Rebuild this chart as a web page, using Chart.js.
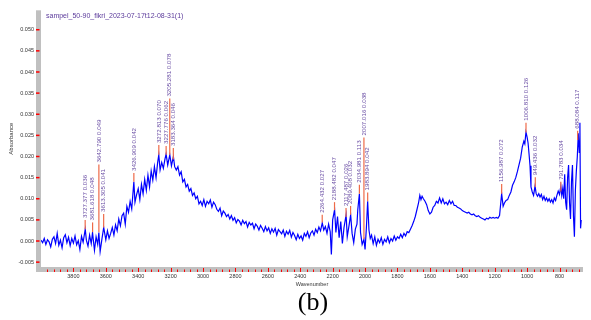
<!DOCTYPE html>
<html><head><meta charset="utf-8">
<script src="https://cdn.jsdelivr.net/npm/chart.js@4.4.0/dist/chart.umd.min.js"></script>
<style>html,body{margin:0;padding:0;background:#fff;}#wrap{width:591px;height:320px;position:relative;}</style>
</head><body><div id="wrap"><canvas id="c" width="591" height="320"></canvas></div>
<script>
const chartTitle = 'sampel_50-90_fikri_2023-07-17t12-08-31(1)';
const xTitle = 'Wavenumber';
const yTitle = 'Absorbance';
const panelLabel = '(b)';

const wavenumbers = [
4000,3990,3980,3970,3960,3950,3940,3930,3920,3910,3900,3890,3880,3870,3860,3850,3840,3830,3820,3810,
3800,3790,3780,3770,3760,3750,3740,3727,3720,3710,3700,3690,3682,3670,3660,3650,3643,3635,3625,3613,
3600,3590,3580,3570,3560,3550,3540,3530,3520,3510,3500,3490,3480,3470,3460,3450,3440,3427,3420,3410,
3400,3390,3380,3370,3360,3350,3340,3330,3320,3310,3300,3290,3280,3273,3265,3255,3245,3235,3228,3218,
3205,3195,3183,3175,3165,3155,3145,3135,3125,3115,3105,3095,3085,3075,3065,3055,3045,3035,3025,3015,
3005,2995,2985,2975,2965,2955,2945,2935,2925,2915,2905,2895,2885,2875,2865,2855,2845,2835,2825,2815,
2805,2795,2785,2775,2765,2755,2745,2735,2725,2715,2705,2695,2685,2675,2665,2655,2645,2635,2625,2615,
2605,2595,2585,2575,2565,2555,2545,2535,2525,2515,2505,2495,2485,2475,2465,2455,2445,2435,2425,2415,
2405,2395,2385,2375,2365,2355,2345,2335,2325,2315,2305,2295,2285,2275,2264,2255,2245,2235,2225,2215,
2208,2200,2188,2180,2170,2160,2150,2140,2130,2117,2110,2100,2089,2080,2070,2060,2050,2045,2035,2028,
2018,2007,2000,1992,1984,1976,1968,1960,1950,1940,1930,1920,1910,1900,1890,1880,1870,1860,1850,1840,
1830,1820,1810,1800,1790,1780,1770,1760,1750,1740,1730,1720,1710,1700,1690,1680,1670,1662,1655,1648,
1640,1630,1620,1610,1600,1590,1580,1570,1560,1550,1540,1530,1520,1510,1500,1490,1480,1470,1460,1450,
1440,1430,1420,1410,1400,1390,1380,1370,1360,1350,1340,1330,1320,1310,1300,1290,1280,1270,1260,1250,
1240,1230,1220,1210,1200,1190,1180,1170,1157,1148,1140,1130,1120,1110,1100,1090,1080,1070,1060,1050,
1040,1030,1020,1014,1007,1000,994,988,982,976,968,960,951,944,936,928,920,912,904,896,
888,880,872,864,856,848,840,832,824,816,808,800,792,786,780,774,768,762,756,750,
744,738,732,726,720,714,708,702,696,690,684,678,674,670,666
];
const absorbance = [
0.0002,-0.0004,0.0006,-0.0008,0.0003,-0.0002,-0.0014,0.0004,0.0010,-0.0006,0.0018,-0.0010,0.0002,-0.0016,0.0008,0.0015,-0.0004,0.0009,-0.0011,0.0006,
-0.0005,0.0012,-0.0009,0.0001,-0.0020,0.0011,-0.0003,0.0028,0.0002,-0.0012,0.0014,-0.0006,0.0020,-0.0022,0.0010,-0.0008,0.0020,-0.0025,0.0002,0.0032,
0.0003,0.0024,0.0006,0.0018,0.0032,0.0014,0.0038,0.0024,0.0052,0.0036,0.0060,0.0066,0.0040,0.0082,0.0068,0.0094,0.0076,0.0140,0.0092,0.0110,
0.0124,0.0098,0.0134,0.0112,0.0146,0.0120,0.0156,0.0128,0.0166,0.0144,0.0176,0.0150,0.0186,0.0204,0.0168,0.0186,0.0172,0.0194,0.0206,0.0180,
0.0204,0.0178,0.0200,0.0176,0.0168,0.0176,0.0156,0.0164,0.0140,0.0146,0.0128,0.0134,0.0118,0.0124,0.0108,0.0114,0.0100,0.0106,0.0088,0.0094,
0.0084,0.0098,0.0082,0.0094,0.0088,0.0097,0.0080,0.0092,0.0086,0.0075,0.0070,0.0078,0.0060,0.0071,0.0066,0.0058,0.0063,0.0052,0.0060,0.0049,
0.0055,0.0043,0.0051,0.0047,0.0038,0.0049,0.0041,0.0046,0.0033,0.0044,0.0038,0.0042,0.0029,0.0040,0.0035,0.0026,0.0037,0.0030,0.0022,0.0034,
0.0024,0.0031,0.0018,0.0029,0.0021,0.0030,0.0014,0.0027,0.0022,0.0017,0.0026,0.0011,0.0023,0.0016,0.0025,0.0009,0.0020,0.0013,0.0003,0.0016,
0.0006,0.0012,0.0002,0.0018,0.0011,0.0022,0.0008,0.0019,0.0024,0.0014,0.0028,0.0020,0.0033,0.0024,0.0043,0.0026,0.0034,0.0018,0.0040,0.0022,
-0.0032,0.0050,0.0074,0.0020,0.0058,0.0008,0.0046,-0.0006,0.0032,0.0062,0.0010,0.0034,0.0062,0.0018,-0.0004,0.0028,0.0040,0.0074,0.0112,0.0020,
-0.0008,0.0004,-0.0020,0.0030,0.0094,0.0026,0.0006,0.0014,-0.0006,0.0010,-0.0010,0.0004,-0.0004,0.0008,-0.0008,0.0004,-0.0002,0.0010,-0.0004,0.0006,
0.0000,0.0012,0.0002,0.0010,0.0006,0.0016,0.0008,0.0018,0.0012,0.0022,0.0020,0.0028,0.0036,0.0046,0.0058,0.0074,0.0090,0.0108,0.0098,0.0106,
0.0100,0.0094,0.0086,0.0072,0.0064,0.0068,0.0080,0.0084,0.0094,0.0090,0.0102,0.0090,0.0100,0.0088,0.0092,0.0086,0.0096,0.0088,0.0094,0.0084,
0.0084,0.0080,0.0078,0.0076,0.0072,0.0070,0.0068,0.0066,0.0068,0.0064,0.0062,0.0064,0.0060,0.0058,0.0060,0.0056,0.0054,0.0052,0.0050,0.0054,
0.0052,0.0056,0.0054,0.0056,0.0054,0.0056,0.0054,0.0060,0.0112,0.0082,0.0090,0.0096,0.0098,0.0108,0.0116,0.0132,0.0140,0.0150,0.0164,0.0180,
0.0196,0.0222,0.0236,0.0230,0.0258,0.0246,0.0232,0.0206,0.0178,0.0128,0.0116,0.0108,0.0130,0.0112,0.0106,0.0112,0.0104,0.0110,0.0098,0.0106,
0.0096,0.0102,0.0094,0.0100,0.0092,0.0098,0.0090,0.0102,0.0096,0.0108,0.0118,0.0110,0.0130,0.0108,0.0124,0.0100,0.0158,0.0092,0.0074,0.0150,
0.0180,0.0090,0.0052,0.0140,0.0180,0.0060,0.0010,0.0120,0.0166,0.0200,0.0255,0.0210,0.0280,0.0030,0.0050
];

const xTickValues = [3800,3600,3400,3200,3000,2800,2600,2400,2200,2000,1800,1600,1400,1200,1000,800];
const yTickValues = [-0.005,0,0.005,0.010,0.015,0.020,0.025,0.030,0.035,0.040,0.045,0.050];

const peakWavenumbers = [3727.377,3681.618,3642.790,3613.305,3426.909,3272.813,3227.776,3205.281,3183.364,
  2264.432,2188.482,2117.487,2089.408,2034.981,2007.016,1983.894,1156.987,1006.810,949.436,791.783,688.084];
const peakLabels = ['3727.377 0.036','3681.618 0.048','3642.790 0.049','3613.305 0.041','3426.909 0.042',
  '3272.813 0.070','3227.776 0.062','3205.281 0.078','3183.364 0.046','2264.432 0.027','2188.482 0.047',
  '2117.487 0.026','2089.408 0.032','2034.981 0.113','2007.016 0.038','1983.894 0.042','1156.987 0.072',
  '1006.810 0.126','949.436 0.032','791.783 0.034','688.084 0.117'];
const peakAbsorbance = [0.0028,0.0021,0.0021,0.0032,0.0140,0.0204,0.0204,0.0204,0.0193,
  0.0044,0.0073,0.0057,0.0062,0.0112,0.0005,0.0094,0.0112,0.0257,0.0128,0.0117,0.0239];
const peakLabelLevel = [0.0050,0.0044,0.0181,0.0064,0.0161,0.0227,0.0225,0.0337,0.0220,
  0.0062,0.0092,0.0078,0.0083,0.0133,0.0245,0.0115,0.0135,0.0280,0.0151,0.0140,0.0261];

const FONT = 'Liberation Sans, Arial, sans-serif';

const decor = {
  id: 'decor',
  beforeDatasetsDraw(chart) {
    const {ctx, chartArea: a, scales: {x, y}} = chart;
    ctx.save();
    ctx.fillStyle = '#c0c0c0';
    ctx.fillRect(a.left - 5, a.top, 5, a.bottom - a.top + 5);
    ctx.fillRect(a.left - 5, a.bottom, a.right - a.left + 5, 5);
    ctx.fillStyle = '#ff0000';
    for (let w = 3960; w >= 680; w -= 40) {
      const px = Math.round(x.getPixelForValue(w));
      const major = w % 200 === 0;
      ctx.fillRect(px, a.bottom + (major ? 1 : 2.5), 1, major ? 4 : 2.5);
    }
    yTickValues.forEach(v => {
      const py = y.getPixelForValue(v);
      ctx.fillRect(a.left - 5, py - 0.75, 3.5, 1.5);
    });
    ctx.restore();
  },
  afterDatasetsDraw(chart) {
    const {ctx, scales: {x, y}} = chart;
    ctx.save();
    peakWavenumbers.forEach((w, i) => {
      const px = x.getPixelForValue(w);
      const yb = y.getPixelForValue(peakAbsorbance[i]);
      const yt = y.getPixelForValue(peakLabelLevel[i]);
      ctx.strokeStyle = '#ee6a48';
      ctx.lineWidth = 1.2;
      ctx.beginPath(); ctx.moveTo(px, yb); ctx.lineTo(px, yt); ctx.stroke();
      ctx.save();
      ctx.translate(px, yt - 2);
      ctx.rotate(-Math.PI / 2);
      ctx.fillStyle = '#6b4fa5';
      ctx.font = '6.2px ' + FONT;
      ctx.textAlign = 'left';
      ctx.textBaseline = 'middle';
      ctx.fillText(peakLabels[i], 0, 0);
      ctx.restore();
    });
    ctx.restore();
  },
  afterDraw(chart) {
    const {ctx} = chart;
    ctx.save();
    ctx.fillStyle = '#5b3a9b';
    ctx.font = '7px ' + FONT;
    ctx.textAlign = 'left';
    ctx.textBaseline = 'middle';
    ctx.fillText(chartTitle, 46, 16.5);
    ctx.fillStyle = '#000';
    ctx.font = '26px Liberation Serif, Times New Roman, serif';
    ctx.textAlign = 'center';
    ctx.fillText(panelLabel, 313, 303);
    ctx.restore();
  }
};

new Chart(document.getElementById('c'), {
  type: 'line',
  data: {
    datasets: [{
      data: wavenumbers.map((w, i) => ({x: w, y: absorbance[i]})),
      borderColor: '#0000ff',
      borderWidth: 1.2,
      pointRadius: 0,
      tension: 0,
      fill: false
    }]
  },
  options: {
    responsive: false,
    animation: false,
    layout: {padding: {left: 0, right: 8, top: 0, bottom: 0}},
    plugins: {legend: {display: false}, tooltip: {enabled: false}, title: {display: false}},
    scales: {
      x: {
        type: 'linear', reverse: true, min: 655, max: 4000,
        afterBuildTicks: s => { s.ticks = xTickValues.map(v => ({value: v})); },
        afterFit: s => { s.height = 53; },
        grid: {display: false, drawTicks: false},
        border: {display: false},
        ticks: {font: {size: 5.5, family: FONT}, color: '#333', padding: 6, maxRotation: 0, autoSkip: false, callback: v => String(v)},
        title: {display: true, text: xTitle, font: {size: 5.5, family: FONT}, color: '#333', padding: {top: 0, bottom: 32}}
      },
      y: {
        type: 'linear', min: -0.00615, max: 0.0546,
        afterBuildTicks: s => { s.ticks = yTickValues.map(v => ({value: v})); },
        afterFit: s => { s.width = 41; },
        grid: {display: false, drawTicks: false},
        border: {display: false},
        ticks: {font: {size: 5.5, family: FONT}, color: '#333', padding: 7, autoSkip: false, callback: v => v.toFixed(3)},
        title: {display: true, text: yTitle, font: {size: 6, family: FONT}, color: '#333', padding: {top: 8, bottom: 0}}
      }
    }
  },
  plugins: [decor]
});
</script></body></html>
